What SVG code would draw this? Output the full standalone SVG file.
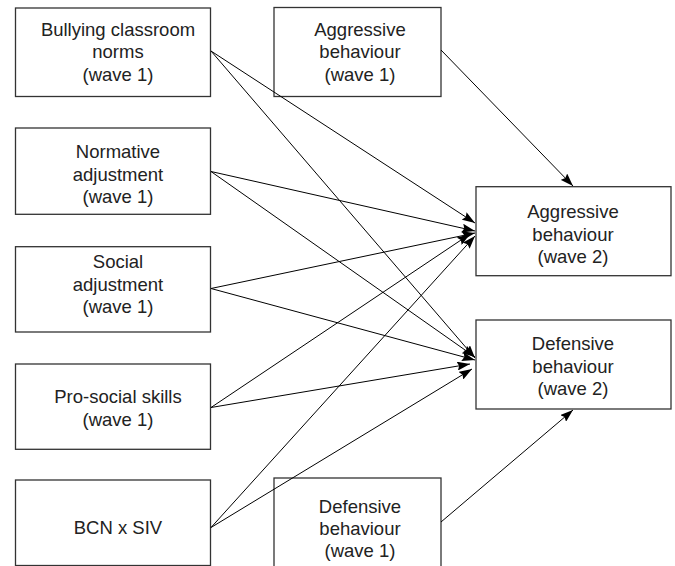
<svg xmlns="http://www.w3.org/2000/svg" width="675" height="566" viewBox="0 0 675 566">
<style>
.box{fill:#fff;stroke:#333;stroke-width:1.3}
.t{font-family:"Liberation Sans",Arial,sans-serif;font-size:18.5px;fill:#222;text-anchor:middle}
.c{stroke:#000;stroke-width:1;fill:none;marker-end:url(#ah)}
</style>
<defs>
<marker id="ah" viewBox="0 0 13 9" refX="13" refY="4.5" markerWidth="13" markerHeight="9" markerUnits="userSpaceOnUse" orient="auto">
<path d="M0,0 L13,4.5 L0,9 L2,4.5 z" fill="#000"/>
</marker>
</defs>
<rect width="675" height="566" fill="#fff"/>
<g id="n-bcn-norms">
<rect class="box" x="15.5" y="8" width="195" height="88.5"/>
<text class="t" x="118" y="36">Bullying classroom</text>
<text class="t" x="118" y="58.3">norms</text>
<text class="t" x="118" y="80.5">(wave 1)</text>
</g>
<g id="n-normative">
<rect class="box" x="15.5" y="128" width="195" height="86.3"/>
<text class="t" x="118" y="158.3">Normative</text>
<text class="t" x="118" y="181">adjustment</text>
<text class="t" x="118" y="203.3">(wave 1)</text>
</g>
<g id="n-social">
<rect class="box" x="15.5" y="246.7" width="195" height="85.3"/>
<text class="t" x="118" y="268.3">Social</text>
<text class="t" x="118" y="291">adjustment</text>
<text class="t" x="118" y="313.3">(wave 1)</text>
</g>
<g id="n-prosocial">
<rect class="box" x="15.5" y="364" width="195" height="85.3"/>
<text class="t" x="118" y="403.3">Pro-social skills</text>
<text class="t" x="118" y="426">(wave 1)</text>
</g>
<g id="n-bcnxsiv">
<rect class="box" x="15.5" y="480" width="195" height="85.5"/>
<text class="t" x="118" y="534">BCN x SIV</text>
</g>
<g id="n-agg1">
<rect class="box" x="274" y="7.5" width="167" height="89"/>
<text class="t" x="360" y="36">Aggressive</text>
<text class="t" x="360" y="58.3">behaviour</text>
<text class="t" x="360" y="81">(wave 1)</text>
</g>
<g id="n-def1">
<rect class="box" x="274" y="478" width="167" height="95"/>
<text class="t" x="360" y="512.7">Defensive</text>
<text class="t" x="360" y="535">behaviour</text>
<text class="t" x="360" y="557">(wave 1)</text>
</g>
<g id="n-agg2">
<rect class="box" x="476" y="186.7" width="195" height="89"/>
<text class="t" x="573" y="218.3">Aggressive</text>
<text class="t" x="573" y="240.7">behaviour</text>
<text class="t" x="573" y="263.3">(wave 2)</text>
</g>
<g id="n-def2">
<rect class="box" x="476" y="320" width="195" height="89"/>
<text class="t" x="573" y="350">Defensive</text>
<text class="t" x="573" y="372.5">behaviour</text>
<text class="t" x="573" y="395">(wave 2)</text>
</g>
<g id="connectors">
<line class="c" x1="211" y1="51" x2="475" y2="223"/>
<line class="c" x1="211" y1="51" x2="475" y2="358"/>
<line class="c" x1="211" y1="171.5" x2="475" y2="231"/>
<line class="c" x1="211" y1="171.5" x2="475" y2="357"/>
<line class="c" x1="211" y1="288.5" x2="475" y2="233"/>
<line class="c" x1="211" y1="288.5" x2="475" y2="360"/>
<line class="c" x1="211" y1="407.5" x2="470" y2="234"/>
<line class="c" x1="211" y1="407.5" x2="470" y2="364"/>
<line class="c" x1="211" y1="527.5" x2="475" y2="236"/>
<line class="c" x1="211" y1="527.5" x2="472" y2="369"/>
<line class="c" x1="441" y1="50" x2="573" y2="186"/>
<line class="c" x1="441" y1="522" x2="573" y2="410"/>
</g>
</svg>
